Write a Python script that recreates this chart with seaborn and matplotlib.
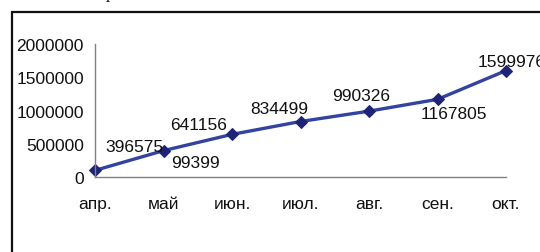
import matplotlib
matplotlib.use("Agg")
import matplotlib.pyplot as plt
import seaborn as sns
import pandas as pd
from matplotlib.patches import Rectangle

months = ["апр.", "май", "июн.", "июл.", "авг.", "сен.", "окт."]
values = [99399, 396575, 641156, 834499, 990326, 1167805, 1599976]
label_offsets = [(32, -12), (-29, 4), (-33, 10), (-21, 13), (-8, 16), (16, -14), (6, 9)]
# label for апр. appears near май in the reference; offsets are relative to each point
label_anchor = [1, 1, 2, 3, 4, 5, 6]

sns.set_theme(style="white")
plt.rcParams["font.family"] = ["Liberation Sans", "DejaVu Sans"]

W, H = 540, 253
fig = plt.figure(figsize=(W / 100, H / 100), dpi=100)
ax = fig.add_axes([95 / W, (H - 178) / H, (506 - 95) / W, (178 - 45) / H])

df = pd.DataFrame({"month": months, "value": values, "x": range(len(months))})
sns.lineplot(data=df, x="x", y="value", ax=ax, color="#3343A0", linewidth=2.4,
             marker="D", markersize=6.5, markerfacecolor="#1E2378",
             markeredgecolor="#1E2378", clip_on=False)
for ln in ax.lines:
    ln.set_clip_on(False)

ax.set_xlim(0, 6)
ax.set_ylim(0, 2000000)
ax.set_yticks([0, 500000, 1000000, 1500000, 2000000])
ax.set_yticklabels(["0", "500000", "1000000", "1500000", "2000000"])
ax.set_xticks(range(len(months)))
ax.set_xticklabels(months)
ax.set_xlabel("")
ax.set_ylabel("")

for s in ["top", "right"]:
    ax.spines[s].set_visible(False)
for s in ["left", "bottom"]:
    ax.spines[s].set_color("#808080")
    ax.spines[s].set_linewidth(1.0)
ax.tick_params(axis="both", which="both", direction="out", length=5, width=1,
               color="#808080", labelsize=12.5, labelcolor="#111111")
ax.tick_params(axis="y", pad=3)
ax.tick_params(axis="x", pad=9)
ax.grid(False)

for i, v in enumerate(values):
    a = label_anchor[i]
    dx, dy = label_offsets[i]
    ax.annotate(str(v), (a, values[a]), xytext=(dx, dy), textcoords="offset pixels",
                ha="center", va="center", fontsize=12.5, color="#111111",
                annotation_clip=False)

# outer frame (cropped at right and bottom)
fig.patches.append(Rectangle((11.5 / W, -0.1), 1.2, (H - 12.5) / H + 0.1,
                             transform=fig.transFigure, fill=False,
                             edgecolor="#111111", linewidth=1.6, clip_on=False))
# fragment of cropped title above
fig.text(110 / W, (H + 2) / H, "р", family=["Liberation Serif", "DejaVu Serif"],
         fontsize=12, ha="center", va="baseline", color="#111111")

fig.savefig("out.png", dpi=100)
